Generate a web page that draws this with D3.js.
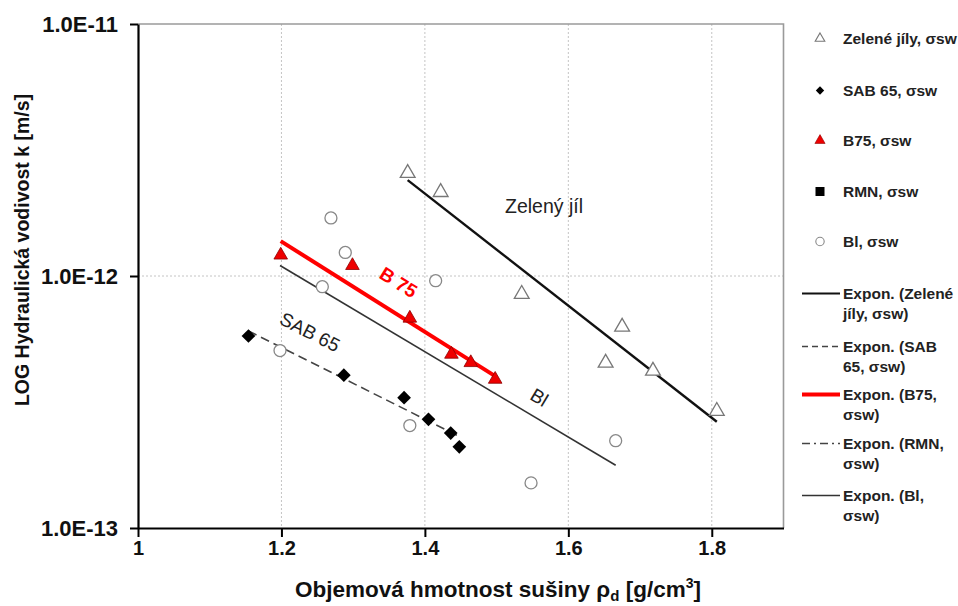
<!DOCTYPE html>
<html>
<head>
<meta charset="utf-8">
<script src="https://cdn.jsdelivr.net/npm/d3@7/dist/d3.min.js"></script>
<style>
  html, body { margin: 0; padding: 0; background: #fff; overflow: hidden; }
  svg { display: block; }
  text { font-family: "Liberation Sans", Arial, sans-serif; }
</style>
</head>
<body>
<svg id="chart" width="958" height="606"></svg>
<script>
// Hydraulic conductivity vs. dry density
const xTicks = [1, 1.2, 1.4, 1.6, 1.8];
const yTicks = [1e-13, 1e-12, 1e-11];

const zeleneX = [1.376, 1.422, 1.535, 1.652, 1.675, 1.718, 1.807];
const zeleneK = [2.56e-12, 2.15e-12, 8.48e-13, 4.52e-13, 6.28e-13, 4.20e-13, 2.91e-13];

const sabX = [1.154, 1.287, 1.371, 1.405, 1.436, 1.448];
const sabK = [5.78e-13, 4.04e-13, 3.29e-13, 2.70e-13, 2.38e-13, 2.10e-13];

const b75X = [1.199, 1.299, 1.379, 1.437, 1.464, 1.498];
const b75K = [1.21e-12, 1.10e-12, 6.80e-13, 4.89e-13, 4.53e-13, 3.89e-13];

const rmnX = [];
const rmnK = [];

const blX = [1.198, 1.257, 1.269, 1.289, 1.379, 1.415, 1.548, 1.666];
const blK = [5.06e-13, 9.07e-13, 1.70e-12, 1.24e-12, 2.55e-13, 9.58e-13, 1.51e-13, 2.22e-13];

const legendMarkers = ["Zelené jíly, σsw", "SAB 65, σsw", "B75, σsw", "RMN, σsw", "Bl, σsw"];
const legendLines = [
  ["Expon. (Zelené", "jíly, σsw)"],
  ["Expon. (SAB", "65, σsw)"],
  ["Expon. (B75,", "σsw)"],
  ["Expon. (RMN,", "σsw)"],
  ["Expon. (Bl,", "σsw)"]
];

const svg = d3.select("#chart");
const m = { left: 138, right: 783.5, top: 24, bottom: 528 };

const x = d3.scaleLinear().domain([1, 1.9]).range([m.left, m.right]);
const y = d3.scaleLog().domain([1e-13, 1e-11]).range([m.bottom, m.top]);

// gridlines
const grid = svg.append("g");
grid.selectAll("line.vx").data(xTicks.slice(1)).join("line")
  .attr("x1", d => x(d)).attr("x2", d => x(d))
  .attr("y1", m.top).attr("y2", m.bottom)
  .attr("stroke", "#c4c4c4").attr("stroke-width", 1).attr("stroke-dasharray", "2,2");
grid.selectAll("line.hy").data([1e-12]).join("line")
  .attr("x1", m.left).attr("x2", m.right)
  .attr("y1", d => y(d)).attr("y2", d => y(d))
  .attr("stroke", "#c4c4c4").attr("stroke-width", 1).attr("stroke-dasharray", "2,2");

// plot frame (top and right)
svg.append("path")
  .attr("d", `M${m.left},${m.top}H${m.right}V${m.bottom}`)
  .attr("fill", "none").attr("stroke", "#9a9a9a").attr("stroke-width", 1.6);

// exponential trend (least squares on ln k)
function expFit(xs, ks) {
  const n = xs.length;
  const ly = ks.map(Math.log);
  const mx = d3.mean(xs), my = d3.mean(ly);
  let sxy = 0, sxx = 0;
  for (let i = 0; i < n; i++) { sxy += (xs[i] - mx) * (ly[i] - my); sxx += (xs[i] - mx) ** 2; }
  const b = sxy / sxx, a = my - b * mx;
  const [x0, x1] = d3.extent(xs);
  return [x0, x1].map(v => [v, Math.exp(a + b * v)]);
}
const line = d3.line().x(d => x(d[0])).y(d => y(d[1]));

svg.append("path").datum(expFit(blX, blK)).attr("d", line)
  .attr("fill", "none").attr("stroke", "#333").attr("stroke-width", 1.6);
svg.append("path").datum(expFit(sabX, sabK)).attr("d", line)
  .attr("fill", "none").attr("stroke", "#444").attr("stroke-width", 1.6).attr("stroke-dasharray", "9,5");
svg.append("path").datum(expFit(zeleneX, zeleneK)).attr("d", line)
  .attr("fill", "none").attr("stroke", "#111").attr("stroke-width", 2.4);

// markers
const pts = (xs, ks) => xs.map((v, i) => [v, ks[i]]);
const tri = d3.symbol().type(d3.symbolTriangle);
const dia = d3.symbol().type(d3.symbolDiamond2);

svg.append("g").selectAll("circle").data(pts(blX, blK)).join("circle")
  .attr("cx", d => x(d[0])).attr("cy", d => y(d[1])).attr("r", 6)
  .attr("fill", "#fff").attr("stroke", "#888").attr("stroke-width", 1.3);

svg.append("g").selectAll("path").data(pts(sabX, sabK)).join("path")
  .attr("d", dia.size(120)())
  .attr("transform", d => `translate(${x(d[0])},${y(d[1])})`)
  .attr("fill", "#000");

svg.append("g").selectAll("path").data(pts(zeleneX, zeleneK)).join("path")
  .attr("d", tri.size(95)())
  .attr("transform", d => `translate(${x(d[0])},${y(d[1])})`)
  .attr("fill", "#fff").attr("stroke", "#777").attr("stroke-width", 1.3);

svg.append("path").datum(expFit(b75X, b75K)).attr("d", line)
  .attr("fill", "none").attr("stroke", "#f00").attr("stroke-width", 4);

svg.append("g").selectAll("path").data(pts(b75X, b75K)).join("path")
  .attr("d", tri.size(80)())
  .attr("transform", d => `translate(${x(d[0])},${y(d[1])})`)
  .attr("fill", "#ee0000").attr("stroke", "#8b0000").attr("stroke-width", 0.8);

// axes
const yAxis = d3.axisLeft(y).tickValues(yTicks).tickSize(8).tickSizeOuter(0)
  .tickFormat(d => "1.0E" + Math.round(Math.log10(d)));
const gy = svg.append("g").attr("transform", `translate(${m.left},0)`).call(yAxis);
gy.select(".domain").attr("stroke", "#000").attr("stroke-width", 2.2);
gy.selectAll(".tick line").attr("stroke", "#000").attr("stroke-width", 2);
gy.selectAll(".tick text").attr("x", -20).attr("font-size", 22).attr("font-weight", "bold")
  .attr("fill", "#111").attr("font-family", "Liberation Sans, Arial, sans-serif");

const xAxis = d3.axisBottom(x).tickValues(xTicks).tickSize(9).tickSizeOuter(0)
  .tickFormat(d => String(+d.toFixed(1)));
const gx = svg.append("g").attr("transform", `translate(0,${m.bottom})`).call(xAxis);
gx.select(".domain").attr("stroke", "#000").attr("stroke-width", 2.2);
gx.selectAll(".tick line").attr("stroke", "#000").attr("stroke-width", 2);
gx.selectAll(".tick text").attr("y", 13).attr("font-size", 20).attr("font-weight", "bold")
  .attr("fill", "#111").attr("font-family", "Liberation Sans, Arial, sans-serif");

// axis titles
const xt = svg.append("text").attr("x", 498).attr("y", 597).attr("text-anchor", "middle")
  .attr("font-size", 22.5).attr("font-weight", "bold").attr("fill", "#111");
xt.append("tspan").text("Objemová hmotnost sušiny ρ");
xt.append("tspan").attr("font-size", 15).attr("dy", 4).text("d");
xt.append("tspan").attr("dy", -4).text(" [g/cm");
xt.append("tspan").attr("font-size", 14).attr("dy", -9).text("3");
xt.append("tspan").attr("dy", 9).text("]");

svg.append("text").attr("transform", "translate(29,250) rotate(-90)")
  .attr("text-anchor", "middle").attr("font-size", 19.5).attr("font-weight", "bold").attr("fill", "#111")
  .text("LOG Hydraulická vodivost k [m/s]");

// in-plot labels
svg.append("text").attr("x", 544).attr("y", 213).attr("text-anchor", "middle")
  .attr("font-size", 19.5).attr("fill", "#222").text("Zelený jíl");
svg.append("text").attr("transform", "translate(395,288) rotate(32)")
  .attr("text-anchor", "middle").attr("font-size", 19).attr("font-weight", "bold").attr("fill", "#f00").text("B 75");
svg.append("text").attr("transform", "translate(307,338) rotate(27)")
  .attr("text-anchor", "middle").attr("font-size", 19).attr("fill", "#222").text("SAB 65");
svg.append("text").attr("transform", "translate(536,403) rotate(31)")
  .attr("text-anchor", "middle").attr("font-size", 19).attr("fill", "#222").text("Bl");

// legend
const lg = svg.append("g");
const markerY = [38.5, 90.5, 140.5, 191.5, 241.5];
const lx = 820, tx = 843;
lg.append("path").attr("d", tri.size(40)()).attr("transform", `translate(${lx},${markerY[0]})`)
  .attr("fill", "#fff").attr("stroke", "#777").attr("stroke-width", 1.1);
lg.append("path").attr("d", dia.size(45)()).attr("transform", `translate(${lx},${markerY[1]})`)
  .attr("fill", "#000");
lg.append("path").attr("d", tri.size(45)()).attr("transform", `translate(${lx},${markerY[2]})`)
  .attr("fill", "#ee0000").attr("stroke", "#8b0000").attr("stroke-width", 0.6);
lg.append("rect").attr("x", lx - 4.5).attr("y", markerY[3] - 4.5).attr("width", 9).attr("height", 9).attr("fill", "#000");
lg.append("circle").attr("cx", lx).attr("cy", markerY[4]).attr("r", 4.2)
  .attr("fill", "#fff").attr("stroke", "#888").attr("stroke-width", 1.1);
lg.selectAll("text.mk").data(legendMarkers).join("text")
  .attr("x", tx).attr("y", (d, i) => markerY[i] + 5.5)
  .attr("font-size", 15.5).attr("font-weight", "bold").attr("fill", "#222").text(d => d);

const lineY = [293.5, 346.5, 394.5, 443.5, 495.5];
const lineStyles = [
  { c: "#111", w: 2, dash: null },
  { c: "#444", w: 1.6, dash: "6,4" },
  { c: "#f00", w: 4, dash: null },
  { c: "#444", w: 1.6, dash: "8,4,2,4" },
  { c: "#333", w: 1.6, dash: null }
];
lineStyles.forEach((s, i) => {
  lg.append("line").attr("x1", 802).attr("x2", 840).attr("y1", lineY[i]).attr("y2", lineY[i])
    .attr("stroke", s.c).attr("stroke-width", s.w).attr("stroke-dasharray", s.dash);
  const t = lg.append("text").attr("x", tx).attr("y", lineY[i] + 5.5)
    .attr("font-size", 15.5).attr("font-weight", "bold").attr("fill", "#222");
  t.append("tspan").attr("x", tx).text(legendLines[i][0]);
  t.append("tspan").attr("x", tx).attr("dy", 19.5).text(legendLines[i][1]);
});
</script>
</body>
</html>
